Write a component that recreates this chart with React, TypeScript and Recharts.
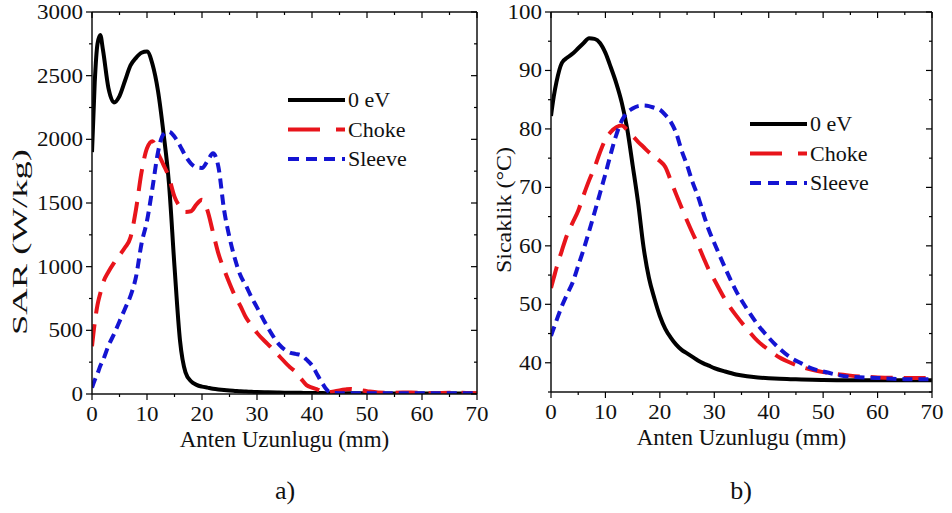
import { LineChart, Line, XAxis, YAxis, Legend, Label } from "recharts"

const FONT = '"Liberation Serif", "Times New Roman", serif'

// a) SAR
const sarX = [0, 0.5, 1, 1.5, 2, 3, 4, 5, 6, 7, 8, 9, 10, 11, 12, 13, 14, 15, 16, 17, 18, 19, 20, 21, 22, 23, 24, 25, 26, 27, 28, 29, 30, 32, 34, 36, 37, 38, 39, 40, 41, 42, 43, 44, 46, 47, 48, 50, 52, 55, 58, 60, 62, 65, 68, 70]
const sar0eV = [1900, 2450, 2750, 2820, 2700, 2400, 2290, 2340, 2460, 2580, 2640, 2680, 2690, 2590, 2380, 2050, 1650, 1000, 420, 170, 100, 72, 58, 50, 42, 36, 31, 27, 24, 21, 19, 17, 15, 13, 11, 10, 9, 9, 8, 8, 7, 7, 6, 6, 5, 5, 5, 5, 4, 4, 4, 3, 3, 3, 3, 3]
const sarChoke = [375, 560, 700, 790, 870, 960, 1030, 1090, 1150, 1230, 1450, 1740, 1930, 1985, 1890, 1800, 1700, 1550, 1470, 1430, 1435, 1490, 1525, 1440, 1270, 1100, 980, 870, 770, 690, 600, 540, 480, 390, 300, 210, 175, 120, 70, 50, 35, 20, 15, 20, 35, 40, 35, 22, 12, 10, 12, 8, 6, 10, 8, 5]
const sarSleeve = [50, 110, 160, 220, 265, 380, 470, 570, 670, 770, 920, 1180, 1360, 1620, 1900, 2040, 2060, 2020, 1950, 1870, 1810, 1780, 1775, 1830, 1890, 1780, 1450, 1230, 1060, 930, 850, 760, 680, 520, 390, 325, 315, 305, 270, 225, 150, 75, 20, 8, 5, 5, 5, 5, 5, 5, 5, 5, 5, 5, 5, 5]
const sarXTicks = [0, 5, 10, 15, 20, 25, 30, 35, 40, 45, 50, 55, 60, 65, 70]
const sarYTicks = [0, 250, 500, 750, 1000, 1250, 1500, 1750, 2000, 2250, 2500, 2750, 3000]

// b) Sicaklik
const tempX = [0, 0.5, 1, 2, 3, 4, 5, 6, 7, 8, 9, 10, 11, 12, 13, 14, 15, 16, 17, 18, 19, 20, 21, 22, 23, 24, 25, 26, 27, 28, 29, 30, 32, 34, 36, 38, 40, 42, 44, 46, 48, 50, 55, 60, 65, 70]
const temp0eV = [82.2, 85.5, 88, 91.3, 92.2, 92.9, 93.8, 94.7, 95.5, 95.4, 94.7, 93, 90.5, 87.8, 84.5, 80, 73.8, 67.4, 59.8, 54.5, 51, 48, 45.8, 44.3, 43.1, 42.2, 41.6, 41, 40.4, 39.9, 39.5, 39.1, 38.5, 38, 37.7, 37.5, 37.35, 37.25, 37.2, 37.15, 37.1, 37.05, 37, 37, 37, 37]
const tempChoke = [52.8, 54.5, 56.2, 59.2, 62, 64, 66, 68.7, 71.2, 73.4, 76, 78.2, 79.5, 80.3, 80.6, 79.8, 78.8, 77.8, 76.9, 76, 75.2, 74.5, 73.5, 71.2, 68.8, 66.5, 64.3, 62.2, 60.2, 58, 55.9, 54.2, 50.8, 48.1, 45.8, 43.7, 42.2, 40.9, 40, 39.3, 38.8, 38.4, 37.8, 37.5, 37.4, 37.4]
const tempSleeve = [44.6, 45.9, 47.2, 49.7, 51.8, 53.8, 56.6, 59.4, 62.5, 65.7, 69, 72.3, 75.8, 79, 81.4, 82.8, 83.5, 83.9, 84, 83.9, 83.6, 83.3, 82.4, 81.2, 79.3, 76.3, 73.8, 70.9, 68.5, 65.5, 62.7, 60.5, 56.2, 52.3, 49.2, 46.5, 44.3, 42.4, 40.9, 39.9, 39, 38.5, 37.6, 37.4, 37.2, 37.2]
const tempXTicks = [0, 5, 10, 15, 20, 25, 30, 35, 40, 45, 50, 55, 60, 65, 70]
const tempYTicks = [35, 40, 45, 50, 55, 60, 65, 70, 75, 80, 85, 90, 95, 100]

const seriesNames = ["0 eV", "Choke", "Sleeve"]
const seriesColors = ["#000000", "#e8141b", "#1414d2"]
const seriesDash = [undefined, "22 11", "10 6"]
const legendDash = [undefined, "32 16", "11 7"]

const sarData = sarX.map((x, i) => ({ x, a: sar0eV[i], b: sarChoke[i], c: sarSleeve[i] }))
const tempData = tempX.map((x, i) => ({ x, a: temp0eV[i], b: tempChoke[i], c: tempSleeve[i] }))

function BottomTick(props: any) {
  const { x, y, payload } = props
  const major = payload.value % 10 === 0
  return (
    <g>
      <line x1={x} y1={y} x2={x} y2={y + (major ? 6 : 3)} stroke="#000" strokeWidth={1.2} />
      {major && (
        <text transform={`translate(${x} ${y + 27}) scale(1.15 1)`} textAnchor="middle" fontSize={20} fontFamily={FONT} fill="#111">
          {payload.value}
        </text>
      )}
    </g>
  )
}

function LeftTick(props: any) {
  const { x, y, payload, step } = props
  const major = payload.value % step === 0
  return (
    <g>
      <line x1={x} y1={y} x2={x - (major ? 6 : 3)} y2={y} stroke="#000" strokeWidth={1.2} />
      {major && (
        <text transform={`translate(${x - 9} ${y + 7}) scale(1.15 1)`} textAnchor="end" fontSize={20} fontFamily={FONT} fill="#111">
          {payload.value}
        </text>
      )}
    </g>
  )
}

function TopTick(props: any) {
  const { x, y, payload } = props
  const major = payload.value % 10 === 0
  return <line x1={x} y1={y} x2={x} y2={y + (major ? 6 : 3)} stroke="#000" strokeWidth={1.2} />
}

function RightTick(props: any) {
  const { x, y, payload, step } = props
  const major = payload.value % step === 0
  return <line x1={x} y1={y} x2={x - (major ? 6 : 3)} y2={y} stroke="#000" strokeWidth={1.2} />
}

function LegendBox() {
  return (
    <svg width={130} height={90}>
      {seriesNames.map((name, i) => (
        <g key={name}>
          <line x1={0} y1={15 + i * 29.5} x2={57} y2={15 + i * 29.5} stroke={seriesColors[i]} strokeWidth={4} strokeDasharray={legendDash[i]} />
          <text x={60} y={15 + i * 29.5 + 7} fontSize={22} fontFamily={FONT} fill="#111">
            {name}
          </text>
        </g>
      ))}
    </svg>
  )
}

function YTitle(props: any) {
  const { viewBox, value, dx, dy, length } = props
  const cx = viewBox.x + dx
  const cy = viewBox.y + viewBox.height / 2 + dy
  return (
    <text
      transform={`translate(${cx} ${cy}) rotate(-90)`}
      textAnchor="middle"
      dominantBaseline="central"
      fontSize={22}
      fontFamily={FONT}
      fill="#111"
      textLength={length}
      lengthAdjust="spacingAndGlyphs"
    >
      {value}
    </text>
  )
}

const axisLine = { stroke: "#111", strokeWidth: 1.5 }

function Panel(props: any) {
  const { data, width, height, leftW, rightW, bottomH, xTicks, yTicks, yDomain, yStep, yTitle, yTitleDx, yTitleDy, yTitleLen, legendLeft, legendTop } = props
  return (
    <LineChart width={width} height={height} data={data} margin={{ top: 0, right: 0, left: 0, bottom: 0 }}>
      <XAxis
        dataKey="x"
        type="number"
        domain={[0, 70]}
        allowDataOverflow
        ticks={xTicks}
        interval={0}
        height={bottomH}
        tickSize={0}
        tickMargin={0}
        tickLine={false}
        axisLine={axisLine}
        tick={<BottomTick />}
      >
        <Label value="Anten Uzunlugu (mm)" position="insideTop" offset={37} fontSize={23} fontFamily={FONT} fill="#111" />
      </XAxis>
      <XAxis
        xAxisId="top"
        orientation="top"
        dataKey="x"
        type="number"
        domain={[0, 70]}
        allowDataOverflow
        ticks={xTicks}
        interval={0}
        height={12}
        tickSize={0}
        tickMargin={0}
        tickLine={false}
        axisLine={axisLine}
        tick={<TopTick />}
      />
      <YAxis
        type="number"
        domain={yDomain}
        allowDataOverflow
        ticks={yTicks}
        interval={0}
        width={leftW}
        tickSize={0}
        tickMargin={0}
        tickLine={false}
        axisLine={axisLine}
        tick={<LeftTick step={yStep} />}
      >
        <Label value={yTitle} content={<YTitle value={yTitle} dx={yTitleDx} dy={yTitleDy} length={yTitleLen} />} />
      </YAxis>
      <YAxis
        yAxisId="right"
        orientation="right"
        type="number"
        domain={yDomain}
        allowDataOverflow
        ticks={yTicks}
        interval={0}
        width={rightW}
        tickSize={0}
        tickMargin={0}
        tickLine={false}
        axisLine={axisLine}
        tick={<RightTick step={yStep} />}
      />
      <Legend
        layout="vertical"
        align="center"
        verticalAlign="middle"
        content={<LegendBox />}
        wrapperStyle={{ left: legendLeft, top: legendTop, width: 130, height: 90 }}
      />
      {["a", "b", "c"].map((key, i) => (
        <Line
          key={key}
          dataKey={key}
          name={seriesNames[i]}
          type="monotone"
          stroke={seriesColors[i]}
          strokeWidth={4}
          strokeDasharray={seriesDash[i]}
          dot={false}
          activeDot={false}
          isAnimationActive={false}
        />
      ))}
    </LineChart>
  )
}

export default function App() {
  return (
    <div style={{ position: "absolute", left: 0, top: 0, width: 952, height: 513, background: "#fff", fontFamily: FONT }}>
      <div style={{ position: "absolute", left: 0, top: 0 }}>
        <Panel
          data={sarData}
          width={500}
          height={470}
          leftW={92}
          rightW={23}
          bottomH={76}
          xTicks={sarXTicks}
          yTicks={sarYTicks}
          yDomain={[0, 3000]}
          yStep={500}
          yTitle="SAR (W/kg)"
          yTitleDx={19}
          yTitleDy={39}
          yTitleLen={186}
          legendLeft={288}
          legendTop={85}
        />
      </div>
      <div style={{ position: "absolute", left: 480, top: 0 }}>
        <Panel
          data={tempData}
          width={472}
          height={470}
          leftW={71}
          rightW={20}
          bottomH={78}
          xTicks={tempXTicks}
          yTicks={tempYTicks}
          yDomain={[35, 100]}
          yStep={10}
          yTitle="Sicaklik (°C)"
          yTitleDx={23}
          yTitleDy={8}
          yTitleLen={126}
          legendLeft={270}
          legendTop={109}
        />
      </div>
      <div style={{ position: "absolute", left: 245, top: 474, width: 80, textAlign: "center", fontSize: 26, lineHeight: "34px", color: "#111" }}>a)</div>
      <div style={{ position: "absolute", left: 701, top: 474, width: 80, textAlign: "center", fontSize: 26, lineHeight: "34px", color: "#111" }}>b)</div>
    </div>
  )
}
